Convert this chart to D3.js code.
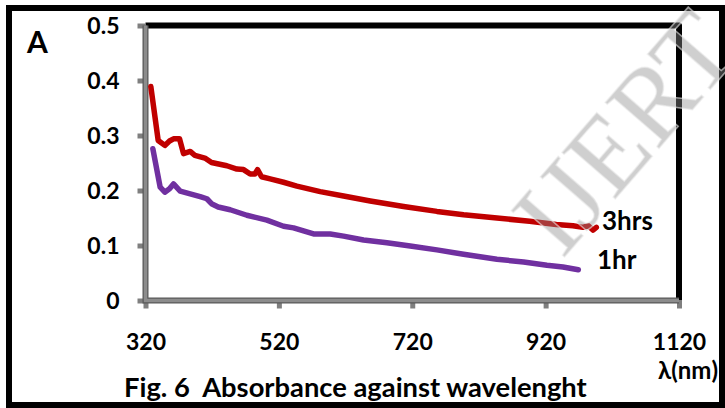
<!DOCTYPE html>
<html>
<head>
<meta charset="utf-8">
<script src="https://cdn.jsdelivr.net/npm/d3@7"></script>
<style>
  html, body { margin: 0; padding: 0; background: #fff; }
  svg { display: block; }
  text { font-family: Lato, "Open Sans", sans-serif; font-weight: bold; }
</style>
</head>
<body>
<svg id="chart" width="725" height="408"></svg>
<script>
// ---- data ----
const series3hrsNm = [328,339,349,356,362,371,377,387,394,409,419,442,457,467,477,484,488,494,507,527,547,582,617,657,707,757,797,847,896,936,961,976,984,991,996];
const series3hrsAbs = [0.389,0.291,0.282,0.290,0.294,0.294,0.267,0.271,0.264,0.259,0.251,0.245,0.239,0.238,0.230,0.230,0.238,0.225,0.221,0.215,0.208,0.198,0.190,0.181,0.171,0.162,0.156,0.150,0.144,0.138,0.136,0.133,0.136,0.128,0.133];
const series1hrNm = [331,342,349,356,362,372,387,402,412,419,429,447,472,502,527,542,572,597,617,647,682,717,757,797,847,887,922,946,969];
const series1hrAbs = [0.276,0.206,0.197,0.203,0.212,0.199,0.194,0.189,0.185,0.176,0.170,0.165,0.155,0.146,0.135,0.132,0.121,0.121,0.117,0.110,0.105,0.099,0.092,0.084,0.075,0.070,0.064,0.061,0.056];
const seriesNames = ["3hrs", "1hr"];
const xTicks = [320, 520, 720, 920, 1120];
const yTicks = [0, 0.1, 0.2, 0.3, 0.4, 0.5];
const yTickLabels = ["0", "0.1", "0.2", "0.3", "0.4", "0.5"];
const panelLabel = "A";
const xAxisTitle = "λ(nm)";
const captionText = "Fig. 6  Absorbance against wavelenght";
const watermarkText = "IJERT";

// ---- layout ----
const svg = d3.select("#chart");
const x = d3.scaleLinear().domain([320, 1120]).range([145.5, 679]);
const y = d3.scaleLinear().domain([0, 0.5]).range([300.5, 25.5]);

// outer frame
svg.append("rect").attr("x", 9).attr("y", 8).attr("width", 713).attr("height", 397)
  .attr("fill", "none").attr("stroke", "#000").attr("stroke-width", 6);

// plot frame top/right (black)
svg.append("path")
  .attr("d", `M${x(320)},${y(0.5)} L${x(1120)},${y(0.5)} L${x(1120)},${y(0)}`)
  .attr("fill", "none").attr("stroke", "#000").attr("stroke-width", 6)
  .attr("stroke-linejoin", "round");

// y axis
const yAxis = d3.axisLeft(y).tickValues(yTicks)
  .tickFormat((d, i) => yTickLabels[i]).tickSize(8).tickPadding(18);
const gy = svg.append("g").attr("transform", `translate(${x(320)},0)`).call(yAxis);
gy.select(".domain").remove();
gy.selectAll(".tick line").attr("stroke", "#7f7f7f").attr("stroke-width", 5);
gy.selectAll(".tick text").style("font-size", "23px").style("font-family", "Lato, sans-serif")
  .style("fill", "#000").attr("dy", "0.36em");

// x axis
const xAxis = d3.axisBottom(x).tickValues(xTicks).tickSize(8).tickFormat(d3.format("d"));
const gx = svg.append("g").attr("transform", `translate(0,${y(0)})`).call(xAxis);
gx.select(".domain").remove();
gx.selectAll(".tick line").attr("stroke", "#7f7f7f").attr("stroke-width", 5);
gx.selectAll(".tick text").style("font-size", "23px").style("font-family", "Lato, sans-serif")
  .style("fill", "#000").attr("y", 49.5).attr("dy", 0);

// axis lines (gray)
svg.append("path")
  .attr("d", `M${x(320)},${y(0.5)} L${x(320)},${y(0)} L${x(1120)},${y(0)}`)
  .attr("fill", "none").attr("stroke", "#595959").attr("stroke-width", 6);
svg.append("path")
  .attr("d", `M${x(320)},${y(0.5)} L${x(320)},${y(0)} L${x(1120)},${y(0)}`)
  .attr("fill", "none").attr("stroke", "#8c8c8c").attr("stroke-width", 3.5);

// lines
const line = d3.line().x(d => x(d[0])).y(d => y(d[1]));
const data3 = series3hrsNm.map((v, i) => [v, series3hrsAbs[i]]);
const data1 = series1hrNm.map((v, i) => [v, series1hrAbs[i]]);
svg.append("path").datum(data3).attr("d", line).attr("fill", "none")
  .attr("stroke", "#C00000").attr("stroke-width", 5.5).attr("stroke-linejoin", "round").attr("stroke-linecap", "round");
svg.append("path").datum(data1).attr("d", line).attr("fill", "none")
  .attr("stroke", "#7030A0").attr("stroke-width", 5.5).attr("stroke-linejoin", "round").attr("stroke-linecap", "round");

// series labels
svg.append("text").attr("x", 602).attr("y", 230).style("font-size", "26px").style("fill", "#000").text(seriesNames[0]);
svg.append("text").attr("x", 597).attr("y", 269).style("font-size", "26px").style("fill", "#000").text(seriesNames[1]);

// panel label
svg.append("text").attr("x", 27).attr("y", 53).style("font-size", "30px").style("fill", "#000").text(panelLabel);

// axis title
svg.append("text").attr("x", 718).attr("y", 379).attr("text-anchor", "end")
  .style("font-size", "24px").style("fill", "#000").text(xAxisTitle);

// caption
const cap = svg.append("text").attr("x", 124).attr("y", 397).style("fill", "#000")
  .style("font-size", "24px").style("white-space", "pre").text(captionText);
const cw = cap.node().getComputedTextLength();
cap.style("font-size", (24 * 463 / cw).toFixed(2) + "px");

// watermark
svg.append("text").attr("transform", "translate(562,260) rotate(-49)")
  .style("font-family", "'Liberation Serif', 'DejaVu Serif', serif").style("font-weight", "normal")
  .style("font-size", "108px").style("fill", "rgba(140,140,140,0.42)")
  .style("stroke", "rgba(235,235,235,0.6)").style("stroke-width", 1.5)
  .text(watermarkText);
</script>
</body>
</html>
